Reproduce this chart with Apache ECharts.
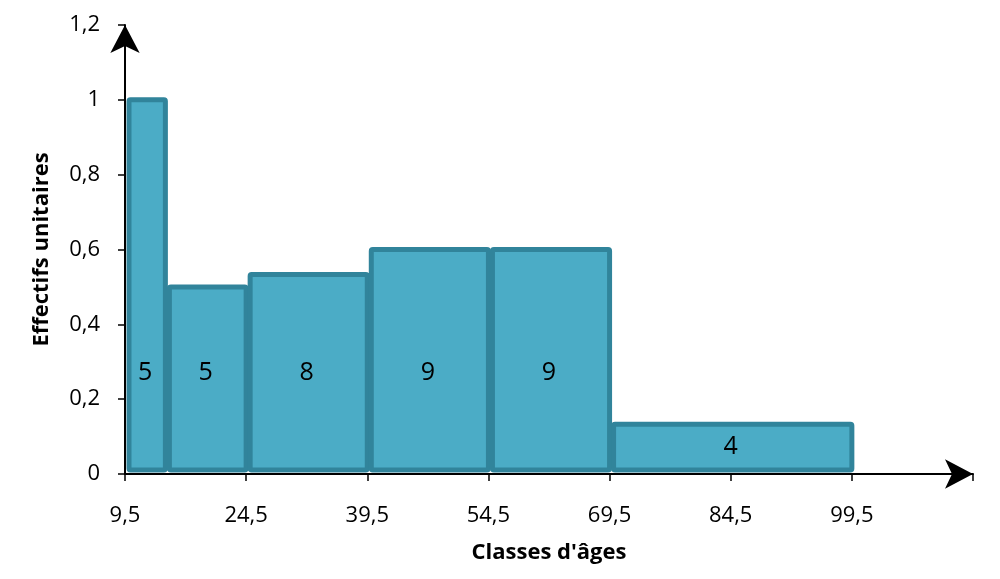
<!DOCTYPE html>
<html><head><meta charset="utf-8">
<script src="https://cdn.jsdelivr.net/npm/echarts@6/dist/echarts.min.js"></script>
<style>html,body{margin:0;padding:0;background:#fff}#c{width:1000px;height:579px}</style>
</head><body><div id="c"></div>
<script>
const binStarts = [9.5, 14.5, 24.5, 39.5, 54.5, 69.5];
const binEnds   = [14.5, 24.5, 39.5, 54.5, 69.5, 99.5];
const heights   = [1, 0.5, 0.533, 0.6, 0.6, 0.133];
const counts    = [5, 5, 8, 9, 9, 4];
const xTitle = "Classes d'âges";
const yTitle = "Effectifs unitaires";

const data = binStarts.map((s, i) => [s, binEnds[i], heights[i], counts[i]]);
const FONT = 'Open Sans';
const chart = echarts.init(document.getElementById('c'));
chart.setOption({
  animation: false,
  grid: {left: 125, right: 27, top: 25, bottom: 105},
  xAxis: {
    type: 'value', min: 9.5, max: 114.5, interval: 15,
    name: xTitle, nameLocation: 'middle', nameGap: 68,
    nameTextStyle: {fontFamily: FONT, fontWeight: 'bold', fontSize: 22, color: '#000'},
    axisLine: {lineStyle: {color: '#000', width: 2}, symbol: ['none', 'arrow'], symbolSize: [22, 28], symbolOffset: 0},
    axisTick: {show: true, length: 7, lineStyle: {color: '#000', width: 1.5}},
    axisLabel: {margin: 31, fontFamily: FONT, fontSize: 22, color: '#000',
      formatter: v => v > 100 ? '' : String(v).replace('.', ',')},
    splitLine: {show: false}
  },
  yAxis: {
    type: 'value', min: 0, max: 1.2, interval: 0.2,
    name: yTitle, nameLocation: 'middle', nameGap: 72,
    nameTextStyle: {fontFamily: FONT, fontWeight: 'bold', fontSize: 22, color: '#000'},
    axisLine: {show: true, lineStyle: {color: '#000', width: 2}, symbol: ['none', 'arrow'], symbolSize: [22, 28], symbolOffset: 0},
    axisTick: {show: true, length: 7, lineStyle: {color: '#000', width: 1.5}},
    axisLabel: {margin: 25, fontFamily: FONT, fontSize: 22, color: '#000',
      formatter: v => String(Math.round(v * 10) / 10).replace('.', ',')},
    splitLine: {show: false}
  },
  series: [{
    type: 'custom',
    data: data,
    encode: {x: [0, 1], y: 2},
    renderItem: function (params, api) {
      const s = api.value(0), e = api.value(1), h = api.value(2), n = api.value(3);
      const p0 = api.coord([s, 0]);
      const p1 = api.coord([e, h]);
      const ly = Math.min(0.27, h * 0.55);
      const pl = api.coord([(s + e) / 2, ly]);
      return {
        type: 'group',
        children: [{
          type: 'rect',
          shape: {x: p0[0] + 4, y: p1[1], width: p1[0] - p0[0] - 4, height: p0[1] - p1[1] - 4, r: 1.5},
          style: {fill: '#4BACC6', stroke: '#31849B', lineWidth: 5}
        }, {
          type: 'text',
          x: pl[0], y: pl[1],
          style: {text: String(n), fontFamily: FONT, fontSize: 25, fill: '#000', align: 'center', verticalAlign: 'middle'}
        }]
      };
    }
  }]
});
</script></body></html>
